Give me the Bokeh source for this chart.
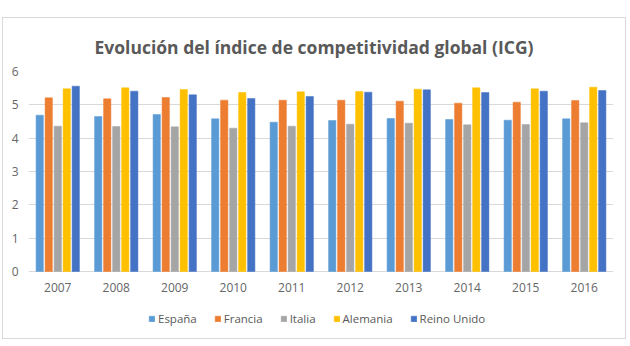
from bokeh.plotting import figure
from bokeh.models import FactorRange, Range1d, Legend, LegendItem, Spacer, ColumnDataSource
from bokeh.layouts import column, row
from bokeh.transform import dodge
from bokeh.core.properties import value
from bokeh.embed import file_html
from bokeh.resources import INLINE

years = ["2007", "2008", "2009", "2010", "2011", "2012", "2013", "2014", "2015", "2016"]
espana = [4.69, 4.65, 4.71, 4.58, 4.48, 4.53, 4.59, 4.56, 4.54, 4.58]
francia = [5.21, 5.18, 5.22, 5.14, 5.14, 5.14, 5.11, 5.05, 5.08, 5.13]
italia = [4.36, 4.35, 4.34, 4.30, 4.36, 4.42, 4.45, 4.40, 4.41, 4.46]
alemania = [5.48, 5.51, 5.46, 5.37, 5.39, 5.40, 5.47, 5.51, 5.48, 5.53]
reino_unido = [5.56, 5.41, 5.30, 5.19, 5.25, 5.38, 5.45, 5.37, 5.41, 5.43]
y_ticks = [0, 1, 2, 3, 4, 5, 6]

series_names = ["España", "Francia", "Italia", "Alemania", "Reino Unido"]
series_keys = ["espana", "francia", "italia", "alemania", "reino_unido"]
colors = ["#5B9BD5", "#ED7D31", "#A5A5A5", "#FFC000", "#4472C4"]

src = ColumnDataSource(dict(year=years, espana=espana, francia=francia,
                            italia=italia, alemania=alemania, reino_unido=reino_unido,
                            label_y=[-0.48] * len(years)))

FONT = "Open Sans"
GREY = "#595959"

p = figure(x_range=FactorRange(*years), y_range=Range1d(-1.95, 6),
           width=624, height=322, output_backend="svg", toolbar_location=None,
           min_border_left=25, min_border_right=14, min_border_top=53, min_border_bottom=4)
p.outline_line_color = None
p.background_fill_color = "white"
p.border_fill_color = "white"

p.title.text = "Evolución del índice de competitividad global (ICG)"
p.title.align = "left"
p.title.offset = 66
p.title.text_font = FONT
p.title.text_font_size = "17.5px"
p.title.text_font_style = "bold"
p.title.text_color = GREY
p.title.standoff = 26

offsets = [-0.308, -0.154, 0.0, 0.154, 0.308]
items = []
for key, name, col, off in zip(series_keys, series_names, colors, offsets):
    r = p.vbar(x=dodge("year", off, range=p.x_range), top=key, width=0.125,
               source=src, fill_color=col, line_color=col, line_width=0.5)
    items.append(LegendItem(label=name, renderers=[r]))

# category labels under the zero line
p.text(x="year", y="label_y", text="year", source=src,
       text_font=value(FONT), text_font_size="12px", text_color="#666666",
       text_align="center", text_baseline="middle")

p.xaxis.visible = False
p.xgrid.grid_line_color = None
p.ygrid.grid_line_color = "#D9D9D9"
p.ygrid.grid_line_width = 1
p.yaxis.ticker = y_ticks

ax = p.yaxis[0]
ax.major_tick_out = 0
ax.major_tick_in = 0
ax.minor_tick_out = 0
ax.minor_tick_in = 0
ax.major_label_text_font = FONT
ax.major_label_text_font_size = "12px"
ax.major_label_text_color = "#666666"
ax.axis_line_color = None
ax.major_label_standoff = 10

p.x_range.range_padding = 0
p.x_range.group_padding = 0

legend = Legend(items=items, orientation="horizontal", location=(120, 10),
                glyph_width=7, glyph_height=7, label_standoff=3, spacing=17,
                label_text_font=FONT, label_text_font_size="11.5px",
                label_text_color=GREY, border_line_color=None,
                background_fill_alpha=0, padding=0, margin=0)
p.add_layout(legend)

p.styles = {"border": "1px solid #D9D9D9"}

layout = column(Spacer(width=630, height=17),
                row(Spacer(width=2, height=322), p))

open("out.html", "w").write(file_html(layout, INLINE))
